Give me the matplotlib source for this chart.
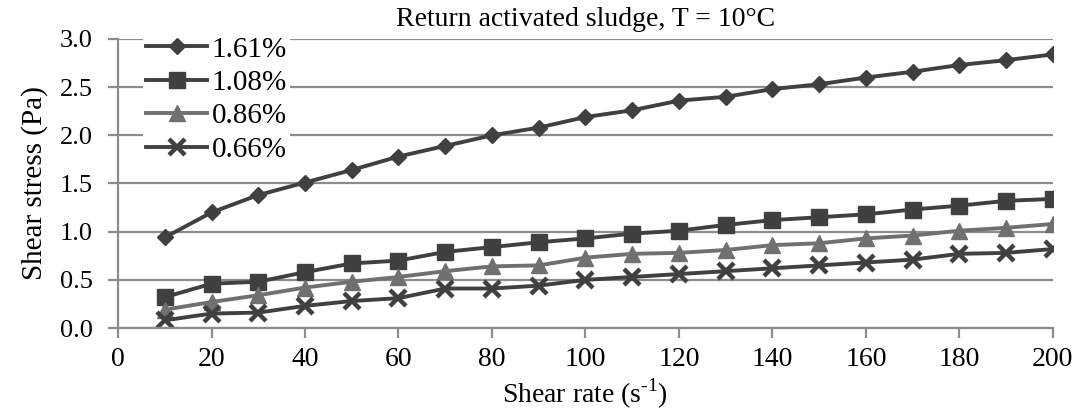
import matplotlib
matplotlib.use("Agg")
from matplotlib import pyplot as plt

shear_rate = [10, 20, 30, 40, 50, 60, 70, 80, 90, 100,
              110, 120, 130, 140, 150, 160, 170, 180, 190, 200]

stress_161 = [0.94, 1.20, 1.38, 1.51, 1.64, 1.78, 1.89, 2.00, 2.08, 2.19,
              2.26, 2.36, 2.40, 2.48, 2.53, 2.60, 2.66, 2.73, 2.78, 2.84]
stress_108 = [0.32, 0.46, 0.48, 0.58, 0.67, 0.70, 0.79, 0.84, 0.89, 0.93,
              0.98, 1.01, 1.07, 1.12, 1.15, 1.18, 1.23, 1.27, 1.32, 1.34]
stress_086 = [0.19, 0.27, 0.34, 0.42, 0.48, 0.53, 0.59, 0.64, 0.65, 0.73,
              0.77, 0.78, 0.81, 0.86, 0.88, 0.93, 0.96, 1.01, 1.04, 1.08]
stress_066 = [0.08, 0.15, 0.16, 0.23, 0.28, 0.31, 0.41, 0.41, 0.44, 0.50,
              0.53, 0.56, 0.59, 0.62, 0.65, 0.68, 0.71, 0.77, 0.78, 0.82]

labels = ["1.61%", "1.08%", "0.86%", "0.66%"]

plt.rcParams["font.family"] = ["Liberation Serif", "DejaVu Serif"]
plt.rcParams["mathtext.fontset"] = "custom"
plt.rcParams["mathtext.rm"] = "Liberation Serif"

fig = plt.figure(figsize=(10.81, 4.16), dpi=100)
ax = fig.add_axes([0.1092, 0.2115, 0.8648, 0.6948])

dark = "#404040"
light = "#707070"
ax.plot(shear_rate, stress_161, color=dark, lw=2.8, marker="D", ms=8, label=labels[0])
ax.plot(shear_rate, stress_108, color=dark, lw=2.8, marker="s", ms=11, label=labels[1])
ax.plot(shear_rate, stress_086, color=light, lw=2.8, marker="^", ms=11, label=labels[2])
ax.plot(shear_rate, stress_066, color=dark, lw=2.8, marker="x", ms=11, mew=3.2, label=labels[3])

ax.set_xlim(0, 200)
ax.set_ylim(0, 3.0)
ax.set_xticks(range(0, 201, 20))
ax.set_yticks([0.0, 0.5, 1.0, 1.5, 2.0, 2.5, 3.0])
ax.yaxis.set_major_formatter(matplotlib.ticker.FormatStrFormatter("%.1f"))
ax.grid(True, axis="y", color="#8c8c8c", lw=1.6)
ax.set_axisbelow(True)
for side in ["top", "right"]:
    ax.spines[side].set_visible(False)
for side in ["left", "bottom"]:
    ax.spines[side].set_color("#8c8c8c")
    ax.spines[side].set_linewidth(1.6)
ax.tick_params(axis="both", colors="#8c8c8c", labelcolor="black",
               length=7, width=1.6, direction="out")
ax.tick_params(axis="x", labelsize=20, pad=7)
ax.tick_params(axis="y", labelsize=19, pad=11)

ax.set_xlabel(r"Shear rate (s$^{\mathrm{\text{-}1}}$)", fontsize=20, labelpad=3)
ax.set_ylabel("Shear stress (Pa)", fontsize=21, labelpad=9)
ax.set_title("Return activated sludge, T = 10°C", fontsize=20, pad=9)

leg = ax.legend(loc="upper left", bbox_to_anchor=(0.027, 1.02), fontsize=21,
                frameon=True, edgecolor="none", framealpha=1.0,
                handlelength=2.1, handletextpad=0.15, labelspacing=0.24,
                borderpad=0.1, borderaxespad=0.0)

fig.savefig("out.png", dpi=100)
